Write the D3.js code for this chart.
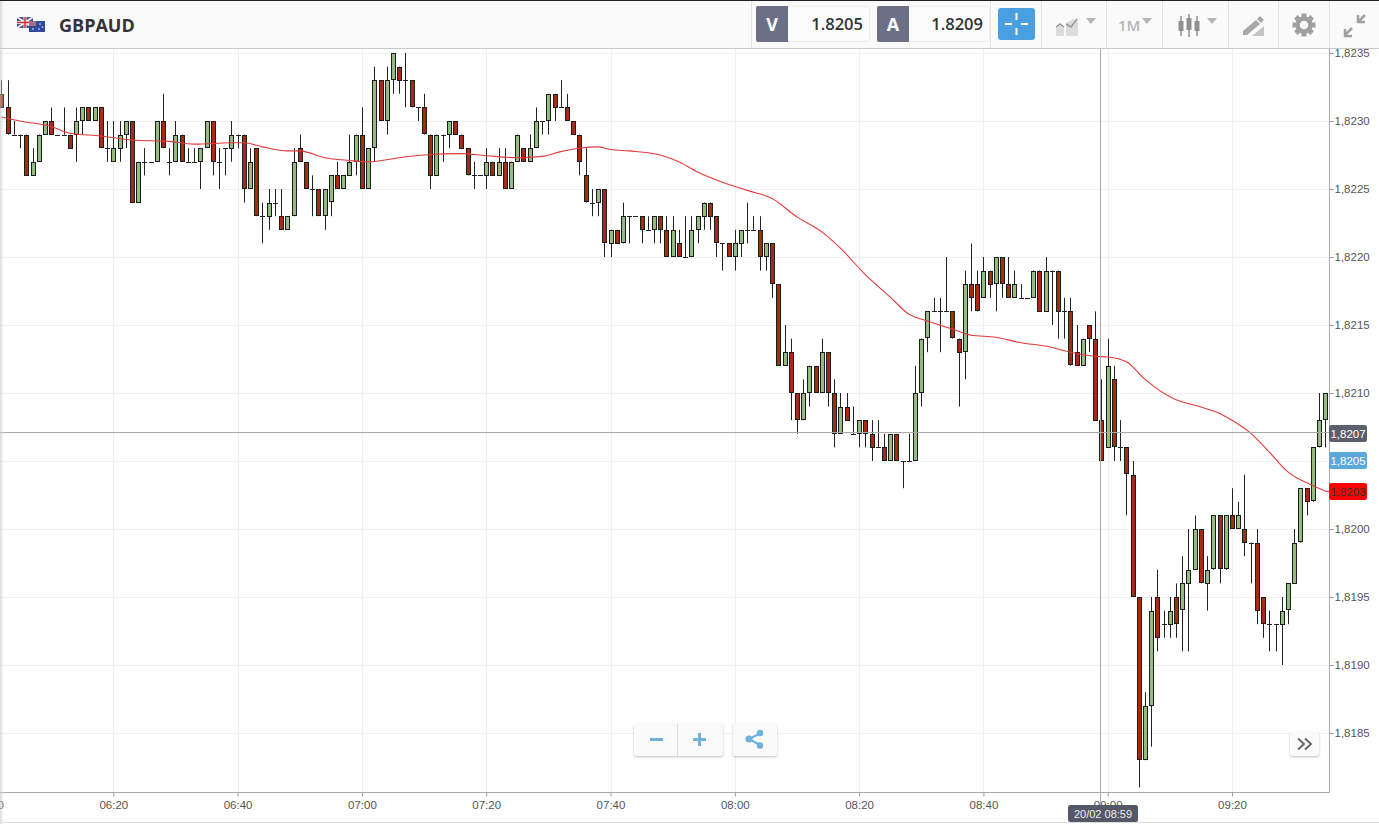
<!DOCTYPE html>
<html>
<head>
<meta charset="utf-8">
<title>GBPAUD</title>
<script src="https://cdn.jsdelivr.net/npm/d3@7"></script>
<style>
    html, body { margin: 0; padding: 0; background: #fff; overflow: hidden; }
    svg { display: block; }
    .axis text { font-family: "Liberation Sans", Arial, sans-serif; font-size: 12px; fill: #555; }
    .axis line { stroke: #999; }
    .bar-text { font-family: "Open Sans", sans-serif; }
</style>
</head>
<body>
<svg width="1379" height="824"></svg>
<script>
// First candle is 06:02, one candle per minute. Prices are last four digits, 8232 = 1.8232
const firstCandle = "06:02";
const opens = [
    8232,8231,8229,8229,8229,8226,8227,8229,8230,8229,
    8229,8229,8229,8230,8231,8230,8231,8228,8227,8228,
    8229,8230,8224,8227,8227,8227,8230,8227,8227,8229,
    8227,8227,8227,8228,8230,8227,8228,8228,8229,8229,
    8225,8228,8223,8223,8224,8223,8222,8223,8228,8227,
    8225,8225,8223,8224,8226,8225,8226,8227,8229,8225,
    8228,8233,8230,8233,8234,8233,8233,8231,8231,8229,
    8226,8229,8229,8230,8229,8228,8226,8226,8226,8227,
    8226,8227,8225,8227,8228,8227,8228,8230,8230,8232,
    8231,8231,8230,8229,8226,8224,8224,8225,8221,8222,
    8221,8223,8223,8223,8222,8222,8223,8222,8220,8221,
    8220,8220,8222,8223,8224,8223,8221,8221,8220,8221,
    8222,8222,8222,8220,8221,8218,8212,8213,8210,8208,
    8210,8212,8210,8213,8210,8207,8209,8207,8207,8208,
    8207,8206,8206,8205,8207,8205,8205,8205,8210,8214,
    8216,8216,8216,8216,8214,8213,8218,8218,8217,8219,
    8218,8220,8218,8217,8217,8217,8217,8219,8216,8219,
    8219,8216,8216,8213,8212,8215,8214,8208,8206,8211,
    8206,8206,8204,8195,8183,8187,8195,8193,8193,8195,
    8194,8196,8197,8200,8196,8197,8201,8197,8201,8200,
    8200,8199,8199,8195,8193,8193,8193,8194,8196,8199,
    8203,8202,8206,8208
];
const closes = [
    8231,8229,8229,8229,8226,8227,8229,8230,8229,8229,
    8229,8228,8230,8231,8230,8231,8228,8228,8228,8229,
    8230,8224,8227,8227,8227,8230,8228,8227,8229,8227,
    8227,8227,8228,8230,8227,8227,8228,8229,8229,8225,
    8227,8223,8223,8224,8224,8222,8223,8227,8227,8225,
    8225,8223,8225,8226,8225,8226,8227,8229,8225,8228,
    8233,8230,8233,8235,8233,8233,8231,8231,8229,8226,
    8229,8229,8230,8229,8228,8226,8226,8226,8227,8226,
    8227,8225,8227,8229,8227,8228,8230,8230,8232,8231,
    8231,8230,8229,8227,8224,8224,8225,8221,8222,8221,
    8223,8223,8223,8222,8222,8223,8222,8220,8222,8220,
    8220,8222,8223,8224,8223,8221,8221,8220,8221,8222,
    8222,8222,8220,8221,8218,8212,8213,8210,8208,8210,
    8212,8210,8213,8210,8207,8209,8208,8207,8208,8207,
    8206,8206,8205,8207,8205,8205,8205,8210,8214,8216,
    8216,8216,8216,8214,8213,8218,8217,8216,8219,8218,
    8220,8218,8217,8218,8217,8217,8219,8216,8219,8219,
    8216,8216,8212,8212,8214,8214,8208,8205,8212,8206,
    8206,8204,8195,8183,8187,8194,8192,8193,8194,8193,
    8196,8197,8200,8196,8197,8201,8197,8201,8200,8201,
    8199,8199,8194,8193,8193,8193,8194,8196,8199,8203,
    8202,8206,8208,8210
];
const highs = [
    8233,8233,8230,8229,8229,8228,8229,8230,8231,8229,
    8231,8229,8231,8231,8231,8231,8231,8230,8230,8230,
    8230,8230,8227,8228,8227,8230,8232,8228,8230,8229,
    8228,8228,8228,8230,8230,8228,8228,8230,8229,8229,
    8228,8228,8224,8225,8225,8225,8223,8228,8229,8227,
    8226,8225,8225,8226,8227,8226,8229,8229,8231,8228,
    8234,8233,8234,8235,8234,8235,8233,8231,8232,8229,
    8229,8229,8230,8230,8229,8228,8227,8226,8228,8227,
    8228,8228,8227,8229,8228,8229,8231,8230,8232,8232,
    8233,8232,8230,8229,8228,8225,8225,8225,8222,8222,
    8224,8223,8223,8223,8223,8223,8223,8223,8223,8222,
    8223,8223,8223,8224,8224,8223,8221,8221,8222,8222,
    8224,8223,8223,8221,8221,8218,8215,8214,8210,8211,
    8212,8212,8214,8213,8211,8210,8210,8209,8208,8208,
    8208,8208,8207,8207,8207,8205,8207,8212,8214,8216,
    8217,8217,8220,8216,8214,8219,8221,8219,8220,8219,
    8220,8220,8220,8219,8218,8217,8219,8219,8220,8219,
    8219,8217,8217,8215,8214,8215,8216,8211,8214,8212,
    8208,8206,8205,8195,8188,8195,8197,8194,8195,8196,
    8198,8200,8201,8200,8198,8201,8201,8201,8203,8202,
    8204,8199,8200,8195,8194,8193,8195,8196,8200,8203,
    8203,8206,8210,8210
];
const lows = [
    8231,8229,8229,8228,8226,8226,8227,8229,8229,8229,
    8229,8228,8227,8229,8230,8230,8228,8227,8227,8227,
    8228,8224,8224,8226,8227,8227,8228,8226,8227,8227,
    8227,8227,8225,8228,8226,8225,8226,8227,8228,8224,
    8225,8223,8221,8222,8223,8222,8222,8223,8227,8225,
    8223,8223,8222,8223,8225,8225,8226,8226,8225,8225,
    8227,8230,8229,8232,8232,8231,8231,8230,8229,8225,
    8226,8227,8228,8229,8228,8226,8225,8226,8225,8226,
    8226,8225,8225,8227,8227,8227,8228,8229,8229,8230,
    8231,8230,8229,8226,8224,8223,8223,8220,8220,8221,
    8221,8221,8223,8221,8222,8221,8221,8220,8220,8220,
    8220,8220,8221,8222,8222,8220,8219,8220,8219,8220,
    8221,8222,8219,8219,8217,8212,8212,8208,8207,8208,
    8209,8210,8210,8209,8206,8207,8208,8207,8206,8206,
    8205,8206,8205,8205,8205,8203,8205,8205,8209,8213,
    8216,8213,8216,8214,8209,8211,8216,8216,8217,8217,
    8216,8217,8217,8217,8217,8217,8217,8216,8216,8215,
    8214,8214,8212,8212,8212,8213,8208,8205,8206,8205,
    8205,8201,8195,8181,8183,8184,8191,8192,8192,8192,
    8191,8191,8197,8196,8194,8197,8196,8197,8200,8200,
    8198,8196,8193,8192,8191,8191,8190,8193,8196,8199,
    8201,8202,8206,8206
];

// Moving average, read at these times
const maTimes = ["06:02","06:05","06:10","06:13","06:18","06:23","06:29","06:33","06:39","06:41","06:44","06:48",
    "06:50","06:54","06:58","07:01","07:06","07:10","07:16","07:20","07:25","07:29","07:32","07:35","07:38",
    "07:40","07:43","07:48","07:51","07:54","07:58","08:02","08:06","08:10","08:14","08:17","08:21","08:25",
    "08:28","08:31","08:35","08:38","08:42","08:46","08:50","08:54","08:58","09:00","09:03","09:06","09:11",
    "09:14","09:18","09:20","09:23","09:26","09:29","09:33","09:35","09:36"];
const maValues = [8230.3,8230.0,8229.6,8229.1,8228.9,8228.6,8228.5,8228.3,8228.4,8228.4,8228.1,8227.8,
    8227.8,8227.3,8227.1,8227.0,8227.3,8227.5,8227.6,8227.45,8227.3,8227.4,8227.75,8228.0,8228.1,
    8227.9,8227.8,8227.5,8227.0,8226.25,8225.5,8224.9,8224.3,8222.95,8221.85,8220.65,8218.7,8217.05,
    8215.8,8215.3,8214.7,8214.25,8214.1,8213.7,8213.45,8213.0,8212.7,8212.65,8212.3,8211.0,8209.5,
    8209.1,8208.5,8208.0,8207.05,8205.65,8204.2,8203.2,8202.8,8202.7];

const priceTicks = [8235,8230,8225,8220,8215,8210,8205,8200,8195,8190,8185];
const timeTicks = ["06:00","06:20","06:40","07:00","07:20","07:40","08:00","08:20","08:40","09:00","09:20"];

const crossTime = "08:59";
const crossPrice = 8207;
const bidPrice = 8205;
const askPrice = 8209;
const maLast = 8202.75;

const toPrice = v => 1 + v / 10000;
const toTime = s => new Date(Date.UTC(2018, 1, 20, +s.slice(0, 2), +s.slice(3)));
const commaPrice = p => d3.format(".4f")(p).replace(".", ",");
const fmtHM = d3.utcFormat("%H:%M");

const svg = d3.select("svg");
const plotRight = 1329, plotTop = 48, plotBottom = 792;

const x = d3.scaleUtc()
    .domain([toTime("06:20"), toTime("09:20")])
    .range([113.3, 1232]);
const y = d3.scaleLinear()
    .domain([toPrice(8185), toPrice(8235)])
    .range([733, 53]);

const candles = opens.map((o, i) => ({
    t: d3.utcMinute.offset(toTime(firstCandle), i),
    o: toPrice(o), c: toPrice(closes[i]), h: toPrice(highs[i]), l: toPrice(lows[i])
}));
const snap = v => Math.round(v) + 0.5;

// left edge shadow
const defs = svg.append("defs");
const shade = defs.append("linearGradient").attr("id", "edge");
shade.append("stop").attr("offset", "0%").attr("stop-color", "#bbb").attr("stop-opacity", 0.6);
shade.append("stop").attr("offset", "100%").attr("stop-color", "#fff").attr("stop-opacity", 0);
defs.append("clipPath").attr("id", "plot").append("rect")
    .attr("x", 0).attr("y", plotTop).attr("width", plotRight).attr("height", plotBottom - plotTop);

// grid
const grid = svg.append("g").attr("clip-path", "url(#plot)");
grid.selectAll(".gy").data(priceTicks).join("line")
    .attr("x1", 0).attr("x2", plotRight)
    .attr("y1", d => snap(y(toPrice(d)))).attr("y2", d => snap(y(toPrice(d))))
    .attr("stroke", "#f0f0f0");
grid.selectAll(".gx").data(timeTicks).join("line")
    .attr("x1", d => snap(x(toTime(d)))).attr("x2", d => snap(x(toTime(d))))
    .attr("y1", plotTop).attr("y2", plotBottom)
    .attr("stroke", "#f0f0f0");

// axes
const yAxis = svg.append("g").attr("class", "axis")
    .attr("transform", `translate(${plotRight + 0.5},0)`)
    .call(d3.axisRight(y).tickValues(priceTicks.map(toPrice)).tickFormat(commaPrice).tickSize(4).tickPadding(1));
yAxis.select(".domain").remove();
yAxis.selectAll("text").style("font-size", "11.5px");
// the bid flag sits on this tick and shows the same number
yAxis.selectAll(".tick").filter(d => d === toPrice(bidPrice)).remove();

const xAxis = svg.append("g").attr("class", "axis")
    .attr("transform", `translate(0,${plotBottom + 0.5})`)
    .call(d3.axisBottom(x).tickValues(timeTicks.map(toTime)).tickFormat(fmtHM).tickSize(4).tickPadding(4));
xAxis.select(".domain").remove();
xAxis.selectAll("text").style("font-size", "11.5px");

svg.append("line").attr("x1", 0).attr("x2", plotRight + 0.5).attr("y1", plotBottom + 0.5).attr("y2", plotBottom + 0.5).attr("stroke", "#a8a8a8");
svg.append("line").attr("x1", plotRight + 0.5).attr("x2", plotRight + 0.5).attr("y1", plotTop).attr("y2", plotBottom + 0.5).attr("stroke", "#a8a8a8");

// candles
const plot = svg.append("g").attr("clip-path", "url(#plot)");
plot.selectAll(".wick").data(candles).join("line")
    .attr("x1", d => snap(x(d.t))).attr("x2", d => snap(x(d.t)))
    .attr("y1", d => y(d.h)).attr("y2", d => y(d.l))
    .attr("stroke", "#222");
plot.selectAll(".doji").data(candles.filter(d => d.o === d.c)).join("line")
    .attr("x1", d => snap(x(d.t)) - 2.5).attr("x2", d => snap(x(d.t)) + 2.5)
    .attr("y1", d => snap(y(d.o))).attr("y2", d => snap(y(d.o)))
    .attr("stroke", "#222");
plot.selectAll(".body").data(candles.filter(d => d.o !== d.c)).join("rect")
    .attr("x", d => snap(x(d.t)) - 2)
    .attr("width", 4)
    .attr("y", d => snap(y(Math.max(d.o, d.c))))
    .attr("height", d => Math.round(Math.abs(y(d.o) - y(d.c))) - 1)
    .attr("fill", d => d.c > d.o ? "#94bb82" : "#a52c12")
    .attr("stroke", "#1c1c1c");

// moving average
const maLine = d3.line()
    .x((d, i) => x(toTime(maTimes[i])))
    .y(d => y(toPrice(d)))
    .curve(d3.curveMonotoneX);
plot.append("path").attr("d", maLine(maValues))
    .attr("fill", "none").attr("stroke", "#e4393b").attr("stroke-width", 1.1);

// crosshair
const crossX = snap(x(toTime(crossTime))) - 1, crossY = Math.floor(y(toPrice(crossPrice))) - 0.5;
svg.append("line").attr("x1", 0).attr("x2", plotRight).attr("y1", crossY).attr("y2", crossY).attr("stroke", "#a9a9a9");
svg.append("line").attr("x1", crossX).attr("x2", crossX).attr("y1", plotTop).attr("y2", 805).attr("stroke", "#a9a9a9");

// price flags on the right axis
const flags = [
    { v: crossPrice, fill: "#5b5e6b", text: "#fff" },
    { v: bidPrice, fill: "#5aa9da", text: "#fff" },
    { v: maLast, fill: "#fe0000", text: "#333" }
];
const flag = svg.append("g").selectAll("g").data(flags).join("g")
    .attr("transform", d => `translate(1329,${Math.round(y(toPrice(d.v)))})`);
flag.append("rect").attr("x", 0).attr("y", -9).attr("width", 38).attr("height", 17).attr("rx", 2.5)
    .attr("fill", d => d.fill);
flag.append("text").attr("x", 19).attr("y", 4).attr("text-anchor", "middle")
    .style("font-family", "'Liberation Sans', Arial, sans-serif").style("font-size", "11.5px")
    .attr("fill", d => d.text).text(d => commaPrice(toPrice(d.v)));

// time tooltip
svg.append("rect").attr("x", 1068).attr("y", 805).attr("width", 70).attr("height", 17).attr("rx", 2.5).attr("fill", "#555866");
svg.append("text").attr("x", 1103).attr("y", 817.5).attr("text-anchor", "middle")
    .style("font-family", "'Liberation Sans', Arial, sans-serif").style("font-size", "11px").attr("fill", "#eee")
    .text("20/02 " + crossTime);

// page edges
svg.append("rect").attr("x", 0).attr("y", 0).attr("width", 5).attr("height", 824).attr("fill", "url(#edge)");
svg.append("line").attr("x1", 0).attr("x2", 1379).attr("y1", 822.5).attr("y2", 822.5).attr("stroke", "#ddd");

// top bar
const bar = svg.append("g");
bar.append("rect").attr("x", 0).attr("y", 0).attr("width", 1379).attr("height", 48).attr("fill", "#fafafa");
bar.append("rect").attr("x", 0).attr("y", 0).attr("width", 1379).attr("height", 1).attr("fill", "#222");
bar.append("rect").attr("x", 0).attr("y", 48).attr("width", 1379).attr("height", 1).attr("fill", "#c8c8c8");
bar.append("rect").attr("x", 0).attr("y", 1).attr("width", 5).attr("height", 47).attr("fill", "url(#edge)");

[751, 990, 1041, 1106, 1162, 1228, 1278, 1329].forEach(px => {
    bar.append("line").attr("x1", px + 0.5).attr("x2", px + 0.5).attr("y1", 1).attr("y2", 48).attr("stroke", "#e4e4e4");
});

// flags
const uk = bar.append("g");
uk.append("rect").attr("x", 17).attr("y", 17).attr("width", 16).attr("height", 11).attr("fill", "#3d4f8f");
uk.append("path").attr("d", "M17,17L33,28M33,17L17,28").attr("stroke", "#eee").attr("stroke-width", 2);
uk.append("path").attr("d", "M25,17V28M17,22.5H33").attr("stroke", "#eee").attr("stroke-width", 3);
uk.append("path").attr("d", "M25,17V28M17,22.5H33").attr("stroke", "#c8303c").attr("stroke-width", 1.5);
const au = bar.append("g");
au.append("rect").attr("x", 29).attr("y", 21).attr("width", 16).attr("height", 11).attr("fill", "#2f4a9c");
au.append("rect").attr("x", 29).attr("y", 21).attr("width", 7).attr("height", 5).attr("fill", "#a5708a");
[[40, 24], [42.5, 27], [39, 29], [33, 29]].forEach(s => {
    au.append("circle").attr("cx", s[0]).attr("cy", s[1]).attr("r", 0.8).attr("fill", "#fff");
});

bar.append("text").attr("class", "bar-text").attr("x", 59).attr("y", 32)
    .style("font-size", "18px").style("font-weight", 700).attr("fill", "#333").text("GBPAUD");

// bid / ask boxes
[{ x0: 756, x1: 869, tag: "V", v: bidPrice }, { x0: 877, x1: 989, tag: "A", v: askPrice }].forEach(b => {
    bar.append("rect").attr("x", b.x0 + 0.5).attr("y", 6.5).attr("width", b.x1 - b.x0).attr("height", 35).attr("rx", 2)
        .attr("fill", "#fbfbfb").attr("stroke", "#ececec");
    bar.append("path").attr("d", `M${b.x0 + 32},6 H${b.x0 + 2} a2,2 0 0 0 -2,2 V40 a2,2 0 0 0 2,2 H${b.x0 + 32} Z`)
        .attr("fill", "#6b7086");
    bar.append("text").attr("class", "bar-text").attr("x", b.x0 + 16).attr("y", 31).attr("text-anchor", "middle")
        .style("font-size", "18px").style("font-weight", 700).attr("fill", "#fff").text(b.tag);
    bar.append("text").attr("class", "bar-text").attr("x", b.x1 - 6).attr("y", 30).attr("text-anchor", "end")
        .style("font-size", "16.5px").style("font-weight", 600).attr("fill", "#333").text(d3.format(".4f")(toPrice(b.v)));
});

// crosshair button
bar.append("rect").attr("x", 998).attr("y", 8).attr("width", 37).attr("height", 32).attr("rx", 3).attr("fill", "#4a9fe0");
bar.append("path").attr("d", "M1016.5,13V20M1016.5,28V35M1005,24H1012M1021,24H1028").attr("stroke", "#fff").attr("stroke-width", 2);

// toolbar icons
const iconGrey = "#b5b5b5";
const tri = (cx, cy) => `M${cx - 5},${cy - 3}H${cx + 5}L${cx},${cy + 3}Z`;
bar.append("path").attr("d", "M1056,36V27L1060,24L1064,27V36ZM1066,36V23L1073,19L1078,21V36Z").attr("fill", "#dcdcdc");
bar.append("path").attr("d", "M1056,27L1060,24L1064,27M1066,24L1071,27L1077,19").attr("fill", "none").attr("stroke", "#9a9a9a").attr("stroke-width", 1.5);
bar.append("path").attr("d", tri(1091, 21)).attr("fill", iconGrey);
bar.append("text").attr("class", "bar-text").attr("x", 1118).attr("y", 31)
    .style("font-size", "15px").style("font-weight", 600).attr("fill", iconGrey).text("1M");
bar.append("path").attr("d", tri(1147, 21)).attr("fill", iconGrey);
[[1181, 21, 31, 16, 36], [1189, 18, 30, 14, 37], [1197, 21, 31, 16, 36]].forEach(c => {
    bar.append("line").attr("x1", c[0]).attr("x2", c[0]).attr("y1", c[3]).attr("y2", c[4]).attr("stroke", "#8f8f8f").attr("stroke-width", 1.5);
    bar.append("rect").attr("x", c[0] - 2.5).attr("y", c[1]).attr("width", 5).attr("height", c[2] - c[1]).attr("fill", "#8f8f8f");
});
bar.append("path").attr("d", tri(1212, 21)).attr("fill", iconGrey);
bar.append("path").attr("d", "M1252,36L1264,26V36Z").attr("fill", "#c4c4c4");
bar.append("path").attr("d", "M1243,31L1256,20L1260,24L1247,35L1243,35Z").attr("fill", "#a8a8a8");
bar.append("path").attr("d", "M1257,19L1260,16L1264,20L1261,23Z").attr("fill", "#a8a8a8");
const gear = bar.append("g").attr("transform", "translate(1304,25)");
d3.range(8).forEach(i => {
    gear.append("rect").attr("x", -2.5).attr("y", -11.5).attr("width", 5).attr("height", 6)
        .attr("fill", "#a0a0a0").attr("transform", `rotate(${i * 45})`);
});
gear.append("circle").attr("r", 6.5).attr("fill", "none").attr("stroke", "#a0a0a0").attr("stroke-width", 4.5);
bar.append("path").attr("d", "M1345,35L1352,28M1345,29V36H1352M1365,15L1358,22M1358,15V22H1365")
    .attr("fill", "none").attr("stroke", "#a0a0a0").attr("stroke-width", 2.5);

// zoom and share buttons over the chart
const panel = (px, py, w, h) => svg.append("rect").attr("x", px).attr("y", py).attr("width", w).attr("height", h).attr("rx", 2)
    .attr("fill", "#fafafa").style("filter", "drop-shadow(0 1px 1px rgba(0,0,0,.25))");
const btnBlue = "#6fb2dc";
panel(634, 724, 89, 32);
svg.append("line").attr("x1", 677.5).attr("x2", 677.5).attr("y1", 724).attr("y2", 756).attr("stroke", "#ddd");
svg.append("path").attr("d", "M650,739.5H663").attr("stroke", btnBlue).attr("stroke-width", 3);
svg.append("path").attr("d", "M693,739.5H706M699.5,733V746").attr("stroke", btnBlue).attr("stroke-width", 3);
panel(733, 724, 44, 32);
svg.append("path").attr("d", "M749,739L760,733.5M749,739L760,745").attr("stroke", btnBlue).attr("stroke-width", 2);
[[749, 739, 3.5], [760, 733, 3.2], [760, 745.5, 3.2]].forEach(c => {
    svg.append("circle").attr("cx", c[0]).attr("cy", c[1]).attr("r", c[2]).attr("fill", btnBlue);
});
panel(1290, 732, 29, 24);
svg.append("path").attr("d", "M1298,738.5L1304,744L1298,749.5M1305,738.5L1311,744L1305,749.5")
    .attr("fill", "none").attr("stroke", "#666").attr("stroke-width", 2);
</script>
</body>
</html>
